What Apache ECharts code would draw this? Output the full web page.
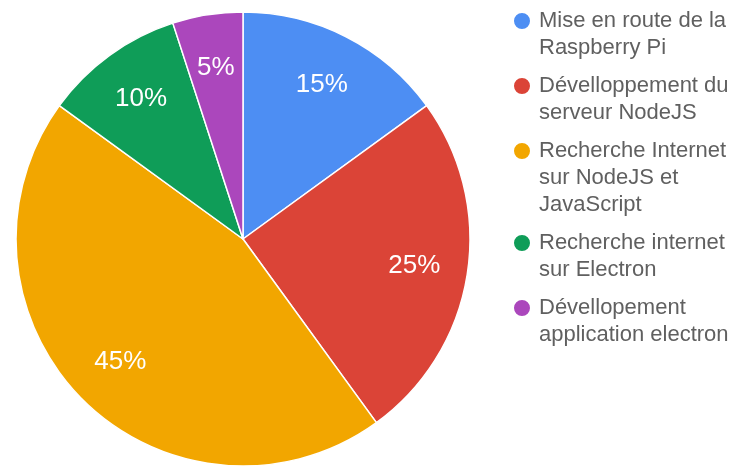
<!DOCTYPE html>
<html>
<head>
<meta charset="utf-8">
<script src="https://cdn.jsdelivr.net/npm/echarts@6/dist/echarts.min.js"></script>
<style>
html,body{margin:0;padding:0;background:#fff;}
#chart{width:730px;height:466px;}
</style>
</head>
<body>
<div id="chart"></div>
<script>
const categories = [
  "Mise en route de la Raspberry Pi",
  "Dévelloppement du serveur NodeJS",
  "Recherche Internet sur NodeJS et JavaScript",
  "Recherche internet sur Electron",
  "Dévellopement application electron"
];
const legendLines = [
  ["Mise en route de la", "Raspberry Pi"],
  ["Dévelloppement du", "serveur NodeJS"],
  ["Recherche Internet", "sur NodeJS et", "JavaScript"],
  ["Recherche internet", "sur Electron"],
  ["Dévellopement", "application electron"]
];
const values = [15, 25, 45, 10, 5];
const colors = ["#4d8ef3", "#db4437", "#f2a600", "#0f9d58", "#ab47bc"];

const FONT = "'Liberation Sans', Arial, sans-serif";
const LH = 27;
const firstLineCenters = [21, 86, 151, 243, 308];

const data = categories.map((c, i) => ({ name: c, value: values[i], itemStyle: { color: colors[i] } }));
const total = values.reduce((a, b) => a + b, 0);

const legends = categories.map((c, i) => {
  const n = legendLines[i].length;
  const ih = 18;
  const blanks = new Array(n - 1).fill(' ');
  return {
    show: true,
    orient: 'vertical',
    left: 512,
    top: firstLineCenters[i] - (2 * n - 1) * LH / 2,
    padding: 0,
    itemWidth: 18,
    itemHeight: ih,
    itemGap: 0,
    icon: 'circle',
    selectedMode: false,
    data: [c],
    formatter: () => blanks.concat(legendLines[i]).join('\n'),
    textStyle: {
      fontFamily: FONT,
      fontSize: 22,
      lineHeight: LH,
      color: '#606060',
      padding: [0, 0, 0, 3]
    }
  };
});

const chart = echarts.init(document.getElementById('chart'), null, { renderer: 'canvas' });
chart.setOption({
  backgroundColor: '#ffffff',
  animation: false,
  legend: legends,
  series: [
    {
      type: 'pie',
      center: [243, 239],
      radius: [0, 227],
      startAngle: 90,
      clockwise: true,
      silent: true,
      label: { show: false },
      labelLine: { show: false },
      itemStyle: { borderColor: '#ffffff', borderWidth: 1.5 },
      data: data
    },
    {
      type: 'pie',
      center: [243, 239],
      radius: [114, 227],
      startAngle: 90,
      clockwise: true,
      silent: true,
      legendHoverLink: false,
      itemStyle: { color: 'rgba(0,0,0,0)', borderWidth: 0 },
      label: {
        show: true,
        position: 'inside',
        formatter: (p) => Math.round(p.value / total * 100) + '%',
        fontFamily: FONT,
        fontSize: 26,
        color: '#ffffff'
      },
      labelLine: { show: false },
      data: categories.map((c, i) => ({ name: c + ' ', value: values[i] }))
    }
  ]
});
</script>
</body>
</html>
